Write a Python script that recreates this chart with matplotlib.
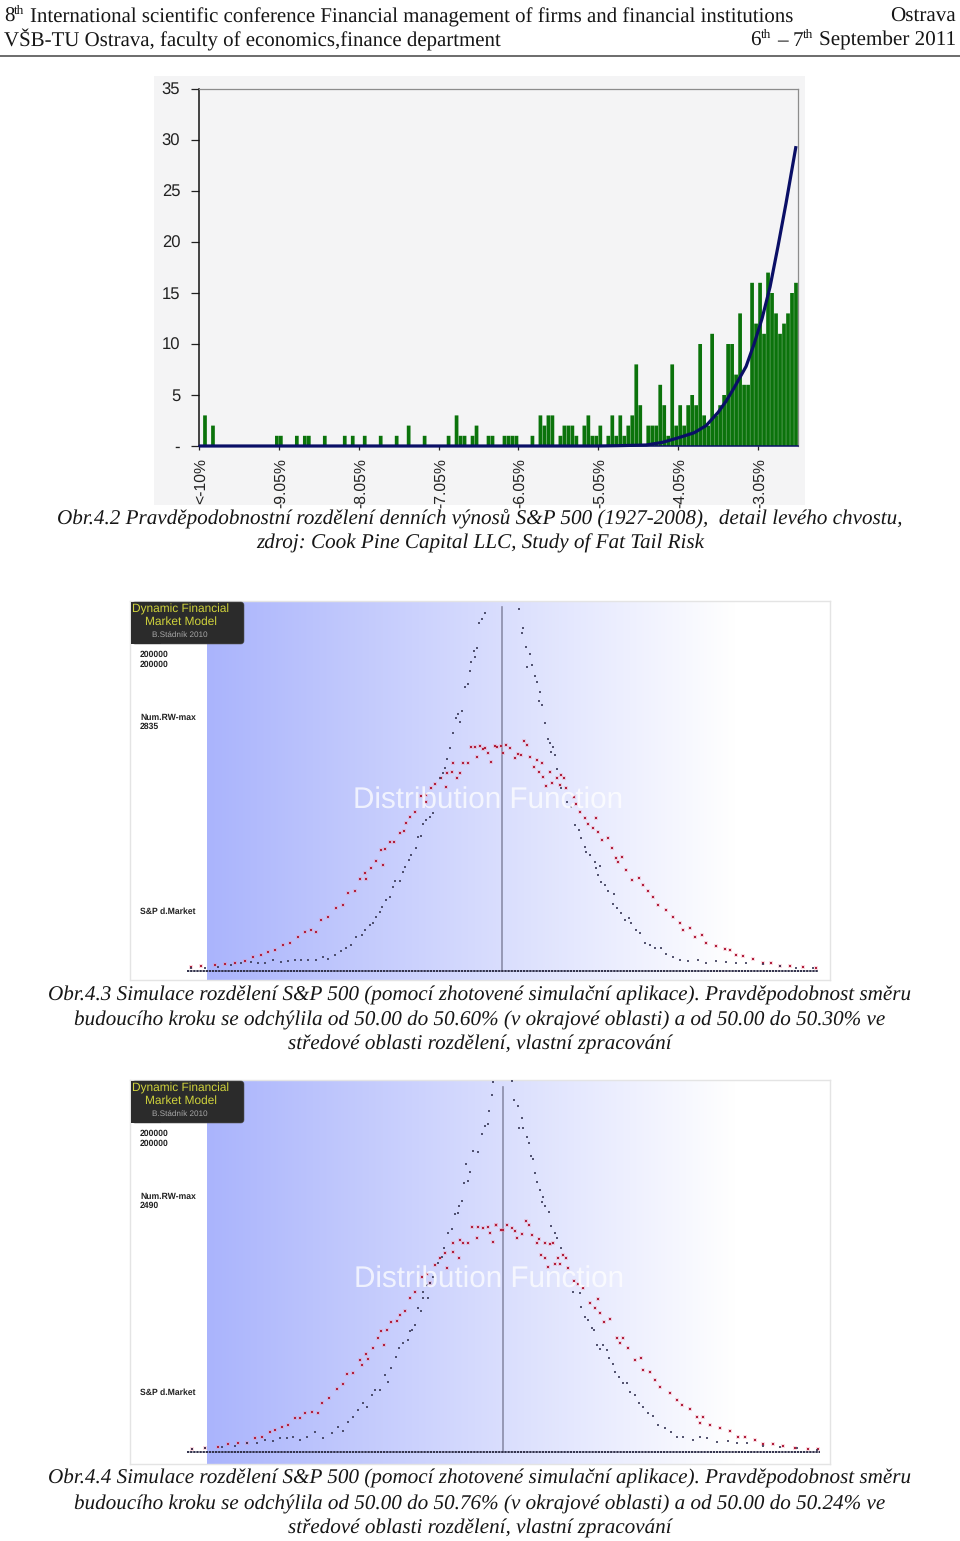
import numpy as np
import matplotlib
matplotlib.use("Agg")
import matplotlib.pyplot as plt
from matplotlib.patches import Rectangle, FancyBboxPatch

plt.rcParams['text.hinting'] = 'no_hinting'

W, H = 960, 1541

# ---------- Fig 4.2 histogram ----------
bin_index = [1,3,19,20,24,26,27,31,36,38,41,45,49,52,56,62,64,65,66,68,69,72,73,76,77,78,79,83,
             85,86,87,88,90,91,92,93,94,96,97,98,99,100,102,103,104,105,106,107,108,109,110,
             112,113,114,115,116,117,118,119,120,121,122,123,124,125,126,127,128,129,130,131,
             132,133,134,135,136,137,138,139,140,141,142,143,144,145,146,147,148,149]
bin_count = [3,2,1,1,1,1,1,1,1,1,1,1,1,2,1,1,3,1,1,1,2,1,1,1,1,1,1,1,
             3,2,3,3,1,2,2,2,1,2,3,1,1,2,1,3,1,3,1,2,3,8,4,
             2,2,2,6,4,1,8,2,4,2,4,5,4,10,3,2,11,3,4,5,
             10,10,7,13,6,6,16,12,16,11,17,15,13,11,12,13,15,16]
curve_bin = [0,100,105,112,116,120,124,127,130,132,134,137,139,141,143,145,147,149.5]
curve_val = [0,0,0.03,0.1,0.35,0.8,1.3,2,3.3,4.4,5.7,7.8,10,12.5,15.6,19.6,23.8,29.4]
y_ticks = [0,5,10,15,20,25,30,35]
y_labels = ['-','5','10','15','20','25','30','35']
x_tick_bins = [0,20,40,60,80,100,120,140]
x_labels = ['<-10%','-9.05%','-8.05%','-7.05%','-6.05%','-5.05%','-4.05%','-3.05%']

# ---------- Fig 4.3 simulation ----------
p1_black_x = [-51,-59,-69,-74,-84,-81,-91,-96,-101,-111,-118,-131,-136,-124,-146,-156,-163,-169,-176,-186,
 -206,-216,-226,-236,-241,-251,-256,-271,-279,-291,-296,-306,-319,-326,-336,-346,-359,-366,-376,-386,-396,
 -409,-419,-436,-451,-466,-481,-501,-521,-536,-556,-581,-601,-621,-641,-661,-686,-711,-731,-751,-781,-811,-851,-891,-931,
 52,64,61,72,84,76,92,99,106,116,111,122,130,139,146,154,161,149,167,177,196,209,221,231,239,249,254,266,279,284,294,289,
 299,309,319,336,334,346,359,371,382,389,404,416,429,444,459,479,494,514,534,559,589,614,644,674,704,734,784,834,884,934]
p1_black_y = [1072,1055,1042,967,959,942,927,899,859,852,780,769,757,745,712,667,635,607,594,577,
 472,462,452,440,405,402,369,347,332,312,297,269,269,252,222,212,192,177,162,142,137,
 122,107,102,77,67,59,47,34,42,32,32,32,32,29,25,32,24,22,27,22,17,12,9,7,
 1085,1027,1014,972,949,910,917,885,865,837,809,797,744,695,684,672,647,657,604,549,507,492,437,422,399,372,357,347,327,309,315,287,
 267,257,239,230,200,189,172,152,159,142,122,112,84,77,67,67,50,42,32,29,32,24,29,27,24,22,19,15,9,9]
p1_red_x = [4,-13,-31,-41,-49,-56,-66,-79,-93,-73,-101,-116,-126,-133,-146,-149,-163,-181,-166,-201,-211,-226,-241,-226,
 -261,-276,-286,-293,-306,-323,-336,-349,-363,-376,-391,-356,-411,-406,-426,-441,-461,-476,-496,-521,-541,-556,-571,-591,
 -611,-636,-656,-681,-701,-721,-746,-771,-801,-831,-861,-901,-931,
 -21,-1,12,26,39,49,59,67,77,86,96,106,122,111,124,144,134,152,166,179,186,174,192,217,224,234,249,284,259,274,289,302,319,
 331,342,362,349,374,392,411,424,439,454,469,494,514,534,544,566,579,602,614,644,669,684,704,724,754,784,809,834,864,904,944]
p1_red_y = [652,672,627,652,669,665,674,671,671,640,622,622,592,579,622,597,592,579,550,559,547,527,525,507,
 477,462,442,419,412,387,387,365,362,330,307,317,292,275,274,239,234,197,187,162,152,115,122,117,
 102,82,77,62,55,47,42,29,24,19,17,14,12,
 675,675,677,667,637,649,647,690,677,642,612,632,624,597,582,595,555,562,577,587,579,557,549,522,499,477,457,457,439,427,415,392,397,
 367,337,340,325,302,272,279,257,239,222,197,182,162,142,122,127,102,107,84,75,65,62,47,45,35,22,24,15,15,10,9]

# ---------- Fig 4.4 simulation ----------
p2_black_x = [-28,-33,-40,-45,-53,-63,-73,-88,-111,-98,-105,-117,-123,-130,-135,-143,-153,-165,-175,-183,-193,-208,-218,-228,-238,
 -225,-238,-253,-245,-263,-271,-278,-285,-300,-311,-321,-335,-353,-343,-368,-383,-391,-408,-418,-433,-448,-463,-478,-493,-513,
 -538,-563,-588,-608,-628,-648,-668,-688,-713,-738,-768,-803,-843,-893,-933,
 27,35,45,57,50,62,72,80,84,92,97,104,112,122,118,128,139,145,157,164,174,212,232,235,247,257,267,275,282,292,302,312,320,330,337,
 350,360,374,382,397,410,422,437,452,465,487,504,522,542,572,592,612,642,677,702,732,782,832,882,942]
p2_black_y = [1111,1071,1024,984,979,953,901,903,863,839,813,807,753,739,716,713,669,656,613,586,566,526,506,501,481,
 461,461,431,423,381,366,363,336,326,311,286,251,231,209,186,186,171,136,146,126,106,91,63,76,56,
 41,61,46,36,46,41,41,33,36,26,26,19,16,13,9,
 1113,1056,1039,1001,971,973,946,926,888,879,836,809,786,766,749,739,719,679,656,641,611,481,476,436,406,396,373,366,321,309,321,306,281,263,241,
 226,206,206,179,171,146,136,116,109,81,71,61,46,46,36,46,41,31,33,28,26,19,16,11,6]
p2_red_x = [2,-21,-38,-28,-43,-58,-73,-93,-78,-103,-118,-128,-130,-148,-148,-168,-173,-188,-203,-228,-243,-218,-263,-278,-293,-308,
 -318,-335,-348,-365,-375,-355,-388,-411,-403,-428,-423,-448,-468,-478,-498,-521,-541,-553,-573,-593,-608,-623,-643,-663,-683,
 -698,-723,-743,-768,-793,-823,-853,-893,-933,
 -20,-6,12,27,37,44,57,69,80,87,102,110,127,142,152,115,127,137,157,167,180,190,172,197,214,227,242,262,285,277,292,304,322,342,362,
 352,377,397,415,422,442,457,472,502,522,537,562,582,602,592,622,652,682,707,727,757,782,812,842,877,917,947]
p2_red_y = [666,681,656,629,676,673,676,674,643,626,626,636,583,626,601,553,596,581,561,533,526,506,479,463,423,411,
 393,389,366,363,341,321,311,293,278,276,261,238,233,203,189,163,146,116,121,116,101,101,81,76,66,
 59,46,41,28,26,23,16,13,9,
 681,666,681,671,663,643,653,694,681,651,626,639,628,623,626,591,583,556,563,581,591,583,563,553,513,503,491,446,459,431,416,391,399,341,341,
 326,311,276,281,246,241,216,196,176,156,141,128,106,106,88,81,71,64,46,46,36,23,23,18,11,9,9]

serif = ['Liberation Serif', 'DejaVu Serif']
sans = ['Liberation Sans', 'DejaVu Sans']

fig = plt.figure(figsize=(W/100, H/100), dpi=100, facecolor='white')

def ax_px(x0, y0, x1, y1, **kw):
    return fig.add_axes([x0/W, 1-y1/H, (x1-x0)/W, (y1-y0)/H], **kw)

back = ax_px(0, 0, W, H, zorder=0)
back.set_xlim(0, W); back.set_ylim(H, 0); back.axis('off')
front = ax_px(0, 0, W, H, zorder=10)
front.set_xlim(0, W); front.set_ylim(H, 0); front.axis('off')
front.patch.set_alpha(0)

def T(x, y, s, size=15.0, **kw):
    kw.setdefault('family', serif); kw.setdefault('va', 'baseline'); kw.setdefault('ha', 'left'); kw.setdefault('color', '#161616')
    return front.text(x, y, s, fontsize=size, **kw)

# page header
T(4, 22, '8'); T(14, 14, 'th', size=9.5)
T(30, 22, 'International scientific conference Financial management of firms and financial institutions')
T(956, 22, 'Ostrava', ha='right', size=15.2)
T(4, 46, 'VŠB-TU Ostrava, faculty of economics,finance department')
T(750, 46, '6', size=15.2); T(761, 38, 'th', size=9.5); T(777, 46, '–', size=15.2); T(793, 46, '7', size=15.2); T(803, 38, 'th', size=9.5)
T(956, 46, 'September 2011', ha='right', size=15.2)
front.plot([0, W], [55.5, 55.5], color='#444444', lw=1.1)

# histogram
back.add_patch(Rectangle((154, 76), 651, 429, fc='#f4f4f5', ec='none'))
ax = ax_px(199, 89, 798, 446, zorder=2, facecolor='#f4f4f5')
ax.bar(np.array(bin_index)+0.5, bin_count, width=0.93, color='#0b730b', lw=0, zorder=2, snap=False)
ax.plot(curve_bin, curve_val, color='#0a0f66', lw=2.3, zorder=3, solid_capstyle='butt', clip_on=False)
ax.set_xlim(0, 150); ax.set_ylim(0, 35)
ax.set_yticks(y_ticks); ax.set_yticklabels(y_labels, family=sans, fontsize=12, color='#222222')
ax.set_xticks(x_tick_bins); ax.set_xticklabels([])
for b, s in zip(x_tick_bins, x_labels):
    ax.annotate(s, xy=(b, 0), xycoords=('data', 'axes fraction'), xytext=(2, -12), textcoords='offset pixels',
                rotation=90, ha='center', va='top', family=sans, fontsize=11.3, color='#222222', annotation_clip=False)
ax.tick_params(axis='y', length=5.5, width=0.9, pad=8, color='#222222')
ax.tick_params(axis='x', length=3, width=0.9, color='#222222')
for s in ('top', 'right'):
    ax.spines[s].set_color('#8c8c8c'); ax.spines[s].set_linewidth(0.9)
ax.spines['left'].set_color('#111111'); ax.spines['left'].set_linewidth(1.1)
ax.spines['bottom'].set_color('#0a0f66'); ax.spines['bottom'].set_linewidth(1.1)

# simulation panels
def panel(x0, y0, x1, y1, cx, base, top, xl, xr, bx, by, rx, ry, num, ylab, dist_x):
    a = ax_px(x0, y0, x1, y1, zorder=2)
    xmin, xmax = (x0-cx)*3, (x1-cx)*3
    ymin, ymax = (base-y1)*3, (base-y0)*3
    px = np.arange(x0, x1)
    frac = np.clip((px-207)/(735-207), 0, 1)
    img = np.ones((1, len(px), 3))
    for k, c in enumerate((170, 180, 252)):
        img[0, :, k] = (c + (255-c)*frac)/255
    img[0, px < 207, :] = 1
    a.imshow(img, extent=[xmin, xmax, ymin, ymax], aspect='auto', interpolation='nearest', zorder=0)
    a.set_xlim(xmin, xmax); a.set_ylim(ymin, ymax)
    a.set_xticks([]); a.set_yticks([])
    for s in a.spines.values():
        s.set_color('#e4e4e4'); s.set_linewidth(1)
    a.plot([0, 0], [0, (base-top)*3], color='#8a8ca8', lw=1.2, zorder=1)
    a.plot([xl, xr], [0, 0], color='#30304a', lw=1.4, ls=(0, (1.2, 0.4)), zorder=2)
    a.scatter(rx, ry, s=6, marker='s', color='#f08aa0', alpha=0.3, lw=0, zorder=3)
    a.scatter(rx, ry, s=1.4, marker='s', color='#b0203c', lw=0, zorder=4)
    a.scatter(bx, by, s=1.0, marker='s', color='#3a3a58', alpha=0.85, lw=0, zorder=5)
    # title plate
    front.add_patch(FancyBboxPatch((132, y0+1), 112, 42, boxstyle='round,pad=0,rounding_size=3', fc='#2b2b2b', ec='#555555', lw=0.4))
    front.add_patch(Rectangle((131, y0+1), 30, 42, fc='#2b2b2b', ec='none'))
    front.text(181, y0+8, 'Dynamic Financial', family=sans, fontsize=8.6, color='#cfd23c', ha='center', va='center')
    front.text(181, y0+21, 'Market Model', family=sans, fontsize=8.6, color='#cfd23c', ha='center', va='center')
    front.text(180, y0+34, 'B.Stádník 2010', family=sans, fontsize=5.9, color='#a8a8a8', ha='center', va='center')
    for dy, s in ((54, '200000'), (64, '200000'), (117, 'Num.RW-max'), (125.5, num)):
        front.text(140, y0+dy, s, family=sans, fontsize=6.2, fontweight='bold', color='#222222', va='center')
    front.text(140, ylab, 'S&P d.Market', family=sans, fontsize=6.2, fontweight='bold', color='#222222', va='center')
    front.text(dist_x, y0+200, 'Distribution Function', family=sans, fontsize=21.3, color='white', alpha=0.75, ha='center', va='center')

panel(130, 601, 830, 980, 501.7, 970.7, 607, -945, 948, p1_black_x, p1_black_y, p1_red_x, p1_red_y, '2835', 911.5, 488)
panel(130, 1080, 830, 1464, 502.7, 1452, 1087, -948, 952, p2_black_x, p2_black_y, p2_red_x, p2_red_y, '2490', 1392.5, 489)

# captions
caps = [
 (523, 'Obr.4.2 Pravděpodobnostní rozdělení denních výnosů S&P 500 (1927-2008),  detail levého chvostu,'),
 (548, 'zdroj: Cook Pine Capital LLC, Study of Fat Tail Risk'),
 (1000.5, 'Obr.4.3 Simulace rozdělení S&P 500 (pomocí zhotovené simulační aplikace). Pravděpodobnost směru'),
 (1025, 'budoucího kroku se odchýlila od 50.00 do 50.60% (v okrajové oblasti) a od 50.00 do 50.30% ve'),
 (1050, 'středové oblasti rozdělení, vlastní zpracování'),
 (1484, 'Obr.4.4 Simulace rozdělení S&P 500 (pomocí zhotovené simulační aplikace). Pravděpodobnost směru'),
 (1509, 'budoucího kroku se odchýlila od 50.00 do 50.76% (v okrajové oblasti) a od 50.00 do 50.24% ve'),
 (1533.5, 'středové oblasti rozdělení, vlastní zpracování'),
]
for y, s in caps:
    T(480, y, s, ha='center', style='italic', size=15.22)

fig.savefig('out.png', dpi=100, facecolor='white')
